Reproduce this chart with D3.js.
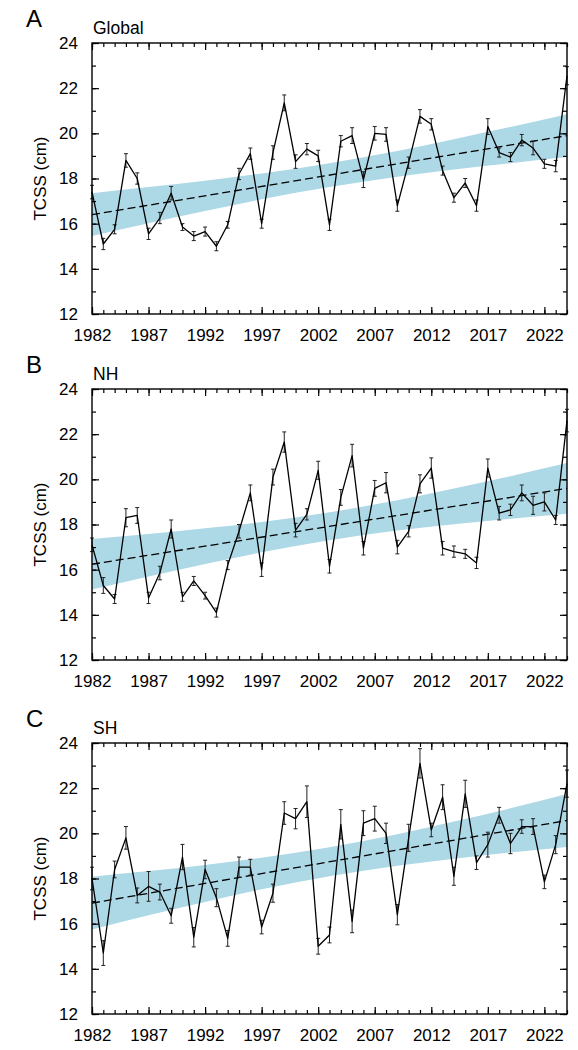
<!DOCTYPE html>
<html>
<head>
<meta charset="utf-8">
<script src="https://cdn.jsdelivr.net/npm/d3@7"></script>
<style>
    body { margin: 0; background: #fff; }
    text { font-family: "Liberation Sans", Arial, sans-serif; fill: #000; }
    .axis text { font-size: 17px; }
    .axis path { display: none; }
    .axis line { stroke: #000; stroke-width: 1.2; }
</style>
</head>
<body>
<svg id="chart"></svg>
<script>
// Years on the x axis
const years = d3.range(1982, 2025);
const xTickYears = [1982, 1987, 1992, 1997, 2002, 2007, 2012, 2017, 2022];
const yTicks = [12, 14, 16, 18, 20, 22, 24];

// TCSS values (cm)
const globalTcss = [17.4, 15.1, 15.75, 18.8, 18.0, 15.55, 16.25, 17.35, 15.85, 15.45, 15.65, 15.0, 15.95, 18.2, 19.1,
    16.0, 19.15, 21.35, 18.75, 19.3, 19.0, 15.95, 19.65, 19.9, 17.95, 20.0, 19.95, 16.8, 18.7, 20.75,
    20.4, 18.35, 17.15, 17.8, 16.8, 20.3, 19.15, 18.95, 19.7, 19.35, 18.65, 18.55, 22.55];
const nhTcss = [17.1, 15.3, 14.7, 18.3, 18.4, 14.75, 15.85, 17.8, 14.8, 15.5, 14.85, 14.1, 16.2, 17.7, 19.4,
    16.0, 20.1, 21.65, 17.75, 18.45, 20.4, 16.15, 19.2, 21.05, 16.95, 19.6, 19.85, 17.0, 17.7, 19.8,
    20.5, 16.95, 16.8, 16.7, 16.3, 20.5, 18.5, 18.65, 19.4, 18.85, 19.0, 18.2, 22.6];
const shTcss = [18.0, 14.7, 18.4, 19.8, 17.25, 17.65, 17.4, 16.35, 18.95, 15.4, 18.4, 17.15, 15.35, 18.5, 18.5,
    15.85, 17.35, 20.9, 20.65, 21.4, 15.0, 15.5, 20.4, 16.1, 20.45, 20.65, 20.0, 16.4, 19.8, 23.1,
    20.15, 21.6, 18.1, 21.75, 18.7, 19.5, 20.8, 19.55, 20.3, 20.3, 17.85, 19.5, 22.2];

// Half-length of the error bars
const globalErr = [0.3, 0.25, 0.2, 0.3, 0.25, 0.25, 0.25, 0.3, 0.15, 0.2, 0.2, 0.2, 0.15, 0.25, 0.25,
    0.2, 0.3, 0.35, 0.3, 0.25, 0.25, 0.25, 0.25, 0.35, 0.35, 0.3, 0.3, 0.25, 0.25, 0.3,
    0.25, 0.2, 0.2, 0.2, 0.25, 0.35, 0.2, 0.2, 0.25, 0.3, 0.2, 0.25, 0.4];
const nhErr = [0.3, 0.35, 0.2, 0.4, 0.35, 0.25, 0.3, 0.4, 0.2, 0.2, 0.15, 0.2, 0.2, 0.3, 0.35,
    0.3, 0.35, 0.45, 0.3, 0.25, 0.4, 0.3, 0.35, 0.5, 0.3, 0.35, 0.45, 0.3, 0.25, 0.4,
    0.45, 0.3, 0.25, 0.2, 0.25, 0.4, 0.3, 0.25, 0.35, 0.4, 0.4, 0.2, 0.5];
const shErr = [0.5, 0.55, 0.37, 0.5, 0.33, 0.66, 0.35, 0.33, 0.56, 0.43, 0.41, 0.4, 0.35, 0.45, 0.35,
    0.3, 0.4, 0.5, 0.45, 0.7, 0.35, 0.35, 0.65, 0.5, 0.55, 0.55, 0.45, 0.45, 0.6, 0.65,
    0.3, 0.55, 0.4, 0.6, 0.3, 0.55, 0.35, 0.45, 0.3, 0.35, 0.3, 0.4, 0.6];

// Linear trend (start, end) and its confidence band
const trendYears = [1982, 2024];
const globalTrend = [16.4, 19.9];
const nhTrend = [16.24, 19.6];
const shTrend = [16.91, 20.57];

const bandYears = [1982, 1987, 1992, 1997, 2003, 2009, 2014, 2019, 2024];
const globalBandLo = [15.45, 16.02, 16.56, 17.08, 17.62, 18.08, 18.40, 18.68, 18.95];
const globalBandHi = [17.35, 17.62, 17.90, 18.22, 18.68, 19.22, 19.74, 20.28, 20.85];
const nhBandLo = [15.12, 15.70, 16.25, 16.77, 17.30, 17.73, 18.01, 18.26, 18.48];
const nhBandHi = [17.36, 17.58, 17.83, 18.11, 18.54, 19.07, 19.59, 20.14, 20.72];
const shBandLo = [15.74, 16.37, 16.96, 17.52, 18.10, 18.56, 18.88, 19.15, 19.40];
const shBandHi = [18.08, 18.33, 18.60, 18.92, 19.38, 19.96, 20.52, 21.11, 21.74];

const panels = [
    {letter: 'A', name: 'Global', vals: globalTcss, err: globalErr, trend: globalTrend, lo: globalBandLo, hi: globalBandHi},
    {letter: 'B', name: 'NH', vals: nhTcss, err: nhErr, trend: nhTrend, lo: nhBandLo, hi: nhBandHi},
    {letter: 'C', name: 'SH', vals: shTcss, err: shErr, trend: shTrend, lo: shBandLo, hi: shBandHi}
];

const width = 578, height = 1050;
const margin = {left: 92, right: 11};
const panelTops = [43, 389, 743];
const panelHeight = 271;

const svg = d3.select('#chart')
    .attr('width', width)
    .attr('height', height);

const xScale = d3.scaleLinear()
    .domain([1982, 2024])
    .range([margin.left, width - margin.right]);

panels.forEach((p, k) => {
    const top = panelTops[k];
    const bottom = top + panelHeight;

    const yScale = d3.scaleLinear()
        .domain([12, 24])
        .range([bottom, top]);

    const g = svg.append('g');

    // Confidence band
    const band = d3.area()
        .x((d, i) => xScale(bandYears[i]))
        .y0((d, i) => yScale(p.lo[i]))
        .y1((d, i) => yScale(p.hi[i]))
        .curve(d3.curveMonotoneX);

    g.append('path')
        .datum(bandYears)
        .attr('d', band)
        .attr('fill', '#add8e6');

    // Dashed trend line
    g.append('line')
        .attr('x1', xScale(trendYears[0]))
        .attr('x2', xScale(trendYears[1]))
        .attr('y1', yScale(p.trend[0]))
        .attr('y2', yScale(p.trend[1]))
        .attr('stroke', '#000')
        .attr('stroke-width', 1.3)
        .attr('stroke-dasharray', '8,4');

    // Error bars
    const bars = g.append('g')
        .attr('stroke', '#222')
        .attr('stroke-width', 1);

    bars.selectAll('.eb')
        .data(years)
        .join('line')
        .attr('x1', d => xScale(d))
        .attr('x2', d => xScale(d))
        .attr('y1', (d, i) => yScale(p.vals[i] - p.err[i]))
        .attr('y2', (d, i) => yScale(p.vals[i] + p.err[i]));

    [-1, 1].forEach(s => {
        bars.append('g').selectAll('line')
            .data(years)
            .join('line')
            .attr('x1', d => xScale(d) - 2)
            .attr('x2', d => xScale(d) + 2)
            .attr('y1', (d, i) => yScale(p.vals[i] + s * p.err[i]))
            .attr('y2', (d, i) => yScale(p.vals[i] + s * p.err[i]));
    });

    // Data line
    const line = d3.line()
        .x((d, i) => xScale(years[i]))
        .y(d => yScale(d));

    g.append('path')
        .datum(p.vals)
        .attr('d', line)
        .attr('fill', 'none')
        .attr('stroke', '#000')
        .attr('stroke-width', 1.3)
        .attr('stroke-linejoin', 'round');

    // Axes, ticks pointing inward on all four sides
    const minorX = years;
    const minorY = d3.range(12, 25, 1);

    g.append('g').classed('axis', true)
        .attr('transform', `translate(0, ${bottom})`)
        .call(d3.axisBottom(xScale).tickValues(minorX).tickSize(-4).tickFormat(''));
    g.append('g').classed('axis', true)
        .attr('transform', `translate(0, ${bottom})`)
        .call(d3.axisBottom(xScale).tickValues(xTickYears).tickSize(-7).tickPadding(15).tickFormat(d3.format('d')));
    g.append('g').classed('axis', true)
        .attr('transform', `translate(0, ${top})`)
        .call(d3.axisTop(xScale).tickValues(minorX).tickSize(-4).tickFormat(''));
    g.append('g').classed('axis', true)
        .attr('transform', `translate(0, ${top})`)
        .call(d3.axisTop(xScale).tickValues(xTickYears).tickSize(-7).tickFormat(''));

    g.append('g').classed('axis', true)
        .attr('transform', `translate(${margin.left}, 0)`)
        .call(d3.axisLeft(yScale).tickValues(minorY).tickSize(-4).tickFormat(''));
    g.append('g').classed('axis', true)
        .attr('transform', `translate(${margin.left}, 0)`)
        .call(d3.axisLeft(yScale).tickValues(yTicks).tickSize(-7).tickPadding(14).tickFormat(d3.format('d')));
    g.append('g').classed('axis', true)
        .attr('transform', `translate(${width - margin.right}, 0)`)
        .call(d3.axisRight(yScale).tickValues(minorY).tickSize(-4).tickFormat(''));
    g.append('g').classed('axis', true)
        .attr('transform', `translate(${width - margin.right}, 0)`)
        .call(d3.axisRight(yScale).tickValues(yTicks).tickSize(-7).tickFormat(''));

    // Frame
    g.append('rect')
        .attr('x', margin.left)
        .attr('y', top)
        .attr('width', width - margin.right - margin.left)
        .attr('height', panelHeight)
        .attr('fill', 'none')
        .attr('stroke', '#000')
        .attr('stroke-width', 1.4);

    // Labels
    g.append('text')
        .attr('x', 26)
        .attr('y', top - 16)
        .style('font-size', '24px')
        .text(p.letter);

    g.append('text')
        .attr('x', 93)
        .attr('y', top - 9)
        .style('font-size', '17.5px')
        .text(p.name);

    g.append('text')
        .attr('transform', `translate(46, ${(top + bottom) / 2}) rotate(-90)`)
        .attr('text-anchor', 'middle')
        .style('font-size', '17px')
        .text('TCSS (cm)');
});
</script>
</body>
</html>
